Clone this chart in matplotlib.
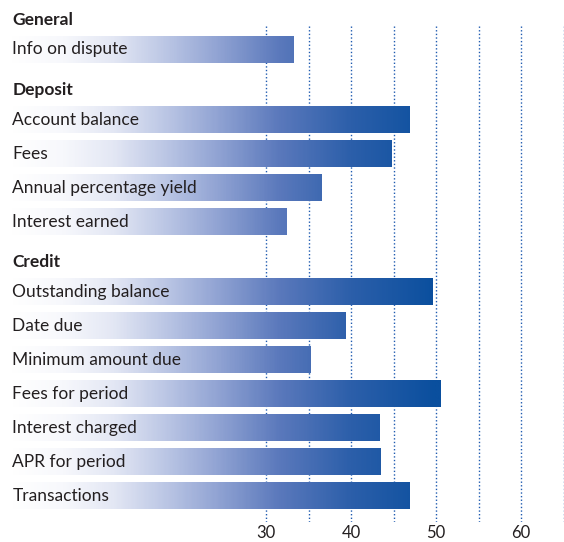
import numpy as np
import matplotlib
matplotlib.use("Agg")
import matplotlib.pyplot as plt
from matplotlib.colors import LinearSegmentedColormap, Normalize

plt.rcParams['font.family'] = ['Lato', 'DejaVu Sans']

# data
groups = ["General", "Deposit", "Credit"]
general_items = ["Info on dispute"]
general_values = [33.2]
deposit_items = ["Account balance", "Fees", "Annual percentage yield", "Interest earned"]
deposit_values = [46.9, 44.8, 36.5, 32.4]
credit_items = ["Outstanding balance", "Date due", "Minimum amount due", "Fees for period",
                "Interest charged", "APR for period", "Transactions"]
credit_values = [49.6, 39.4, 35.2, 50.5, 43.3, 43.5, 46.9]
grid_values = [30, 35, 40, 45, 50, 55, 60, 65]
tick_values = [30, 40, 50, 60]

group_items = [general_items, deposit_items, credit_items]
group_values = [general_values, deposit_values, credit_values]

text_col = '#231f20'
blue = '#1f5bb0'
cmap = LinearSegmentedColormap.from_list('bar', [
    (0.0, '#ffffff'), (0.12, '#f7f8fc'), (0.24, '#e3e7f4'), (0.36, '#bcc7e5'),
    (0.48, '#93a5d4'), (0.63, '#5b79bc'), (0.8, '#2c5faa'), (1.0, '#0a4f9e')])
norm = Normalize(0, 50)

fig = plt.figure(figsize=(5.64, 5.42), dpi=100)
ax = fig.add_axes([0, 20 / 542, 1, 522 / 542])

# layout in row units
bar_h = 0.79
y = 1.45
header_pos, rows = [], []
for gi, (items, vals) in enumerate(zip(group_items, group_values)):
    header_pos.append(y - 0.87)
    for name, v in zip(items, vals):
        rows.append((y, name, v))
        y += 1.0
    y += 1.07

ymax = 522 / 34
ax.vlines(grid_values, header_pos[0] + 0.18, ymax, colors=blue, linestyles=(0, (1, 1.6)),
          linewidth=1.0, zorder=0)

for yc, name, v in rows:
    grad = np.linspace(0, v, 300)[None, :]
    ax.imshow(grad, cmap=cmap, norm=norm, aspect='auto', interpolation='bilinear',
              extent=(0, v, yc + bar_h / 2, yc - bar_h / 2), zorder=2)
    ax.text(0.15, yc, name, fontsize=12.5, color=text_col, va='center', ha='left', zorder=3)

for g, hp in zip(groups, header_pos):
    ax.text(0.15, hp, g, fontsize=12.5, fontweight='bold', color=text_col,
            va='center', ha='left')

ax.set_xlim(-11 / 8.5, 553 / 8.5)
ax.set_ylim(ymax, 0)
ax.set_xticks(tick_values)
ax.set_xticklabels([str(t) for t in tick_values], fontsize=12, color=text_col)
ax.tick_params(axis='x', length=0, pad=2)
ax.set_yticks([])
for s in ax.spines.values():
    s.set_visible(False)

fig.savefig('out.png', dpi=100)
